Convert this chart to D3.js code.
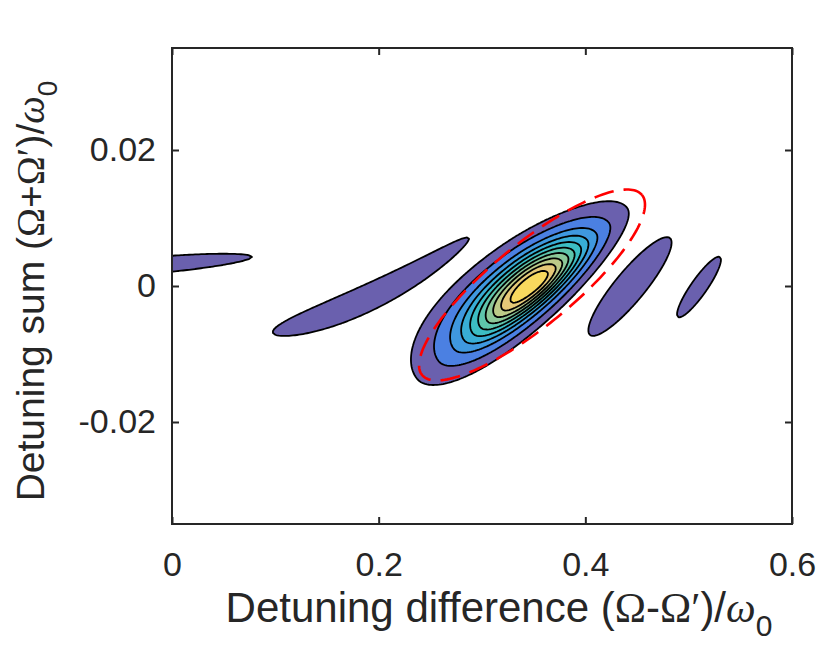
<!DOCTYPE html>
<html>
<head>
<meta charset="utf-8">
<script src="https://cdn.jsdelivr.net/npm/d3@7"></script>
<style>
  body { margin: 0; background: #fff; }
  text { font-family: "Liberation Sans", Arial, Helvetica, sans-serif; fill: #262626; }
  .sym { font-family: "Liberation Serif", "DejaVu Serif", serif; }
</style>
</head>
<body>
<div id="vis"></div>
<script>
// Datos
const xTicks = [0, 0.2, 0.4, 0.6];
const yTicks = [-0.02, 0, 0.02];
const xDomain = [0, 0.6];
const yDomain = [-0.035, 0.035];

// niveles de contorno (fracción del máximo)
const levels = [0.03, 0.1, 0.2, 0.3, 0.4, 0.5, 0.6, 0.7, 0.8, 0.9];

// lóbulos: pico, extremos, ancho relativo [lado superior, lado inferior], curvatura, asimetría, amplitud
const lobePeak = [[0.3474, 0.0], [-0.029, 0.0029], [0.1926, 0.00008], [0.4432, -0.00008], [0.510, -0.00015]];
const lobeTipA = [[0.2310, -0.01250], [-0.1355, 0.00147], [0.0977, -0.00691], [0.4045, -0.00721], [0.4897, -0.00456]];
const lobeTipB = [[0.4340, 0.01270], [0.0774, 0.00426], [0.2874, 0.00706], [0.4819, 0.00706], [0.5303, 0.00426]];
const lobeWidth = [[0.37, 0.27], [0.075, 0.075], [0.12, 0.12], [0.24, 0.24], [0.22, 0.22]];
const lobeBend = [0, 0, 0.09, 0, 0];
const lobeTaper = [0.2, 0, 0.2, 0, 0];
const lobeAmp = [1, 0.06, 0.06, 0.06, 0.06];

// elipse roja: centro y semiejes (unidades de datos)
const redCenter = [0.3484, 0.00015];
const redAxisA = [0.1064, 0.01324];
const redAxisB = [0.02515, -0.00466];

// colores de las bandas
const bandColors = ["#6a60ae", "#4b80e2", "#3f98df", "#38add5", "#3cbdc3",
  "#5ec5ac", "#8cc898", "#bcca88", "#e5c978", "#f8d95e"];

// Constantes
const WIDTH = 817;
const HEIGHT = 649;
const margin = { top: 48, right: 25, bottom: 125, left: 172 };
const width = WIDTH - margin.left - margin.right;
const height = HEIGHT - margin.top - margin.bottom;

const svg = d3.select("#vis")
  .append("svg")
  .attr("width", WIDTH)
  .attr("height", HEIGHT);

const x = d3.scaleLinear().domain(xDomain).range([margin.left, margin.left + width]);
const y = d3.scaleLinear().domain(yDomain).range([margin.top + height, margin.top]);

svg.append("clipPath")
  .attr("id", "clip")
  .append("rect")
  .attr("x", margin.left)
  .attr("y", margin.top)
  .attr("width", width)
  .attr("height", height);

// Campo en pixeles a partir de los lóbulos
const t0 = levels[0];
const lobes = lobePeak.map((p, k) => {
  const c = [x(p[0]), y(p[1])];
  const A = [x(lobeTipA[k][0]), y(lobeTipA[k][1])];
  const B = [x(lobeTipB[k][0]), y(lobeTipB[k][1])];
  const len = Math.hypot(B[0] - A[0], B[1] - A[1]);
  const e = [(B[0] - A[0]) / len, (B[1] - A[1]) / len];
  const n = [-e[1], e[0]];
  const uA = -((A[0] - c[0]) * e[0] + (A[1] - c[1]) * e[1]);
  const uB = (B[0] - c[0]) * e[0] + (B[1] - c[1]) * e[1];
  const Lm = (uA + uB) / 2;
  const s = Math.sqrt(Math.log(lobeAmp[k] / t0));
  return {
    c, e, n, uA, uB, Lm,
    aA: uA / s, aB: uB / s,
    bN: lobeWidth[k][0] * Lm / s, bP: lobeWidth[k][1] * Lm / s,
    bend: lobeBend[k] * Lm, taper: lobeTaper[k], amp: lobeAmp[k]
  };
});

function field(px, py) {
  let m = 0;
  lobes.forEach(l => {
    const dx = px - l.c[0], dy = py - l.c[1];
    const u = dx * l.e[0] + dy * l.e[1];
    let v = dx * l.n[0] + dy * l.n[1];
    const Lu = u < 0 ? l.uA : l.uB;
    v -= l.bend * (1 - (u / Lu) * (u / Lu));
    const a = u < 0 ? l.aA : l.aB;
    const grow = Math.max(0.4, 1 - l.taper * u / l.Lm);
    const b = (v < 0 ? l.bN : l.bP) * grow;
    const f = l.amp * Math.exp(-(u * u / (a * a) + v * v / (b * b)));
    if (f > m) m = f;
  });
  return m;
}

const step = 2;
const nx = Math.ceil(width / step);
const ny = Math.ceil(height / step);
const values = new Float64Array(nx * ny);
for (let j = 0; j < ny; j++) {
  for (let i = 0; i < nx; i++) {
    values[j * nx + i] = field(margin.left + (i + 0.5) * step, margin.top + (j + 0.5) * step);
  }
}

const contours = d3.contours().size([nx, ny]).thresholds(levels)(values);
const geo = d3.geoPath(d3.geoIdentity().scale(step).translate([margin.left, margin.top]));

const plot = svg.append("g").attr("clip-path", "url(#clip)");

plot.selectAll("path.band")
  .data(contours)
  .join("path")
  .attr("class", "band")
  .attr("d", geo)
  .attr("fill", (d, i) => bandColors[i])
  .attr("stroke", "black")
  .attr("stroke-width", 1.8)
  .attr("stroke-linejoin", "round");

// Elipse roja discontinua
const ang = d3.range(0, 2 * Math.PI + 0.001, Math.PI / 90);
const ellipse = d3.line()
  .x(t => x(redCenter[0] + Math.cos(t) * redAxisA[0] + Math.sin(t) * redAxisB[0]))
  .y(t => y(redCenter[1] + Math.cos(t) * redAxisA[1] + Math.sin(t) * redAxisB[1]));

plot.append("path")
  .attr("d", ellipse(ang))
  .attr("fill", "none")
  .attr("stroke", "#ff0000")
  .attr("stroke-width", 2.6)
  .attr("stroke-dasharray", "20 10");

// Ejes
const tick = 7;
const fmt = d => d === 0 ? "0" : String(d);
svg.append("g")
  .attr("transform", `translate(0, ${margin.top + height})`)
  .call(d3.axisBottom(x).tickValues(xTicks).tickSize(-tick).tickSizeOuter(0).tickPadding(28)
    .tickFormat(fmt))
  .call(g => g.select(".domain").remove())
  .call(g => g.selectAll("text").style("font-size", "34px").attr("fill", "#262626"));

svg.append("g")
  .attr("transform", `translate(0, ${margin.top})`)
  .call(d3.axisTop(x).tickValues(xTicks).tickSize(-tick).tickSizeOuter(0).tickFormat(""))
  .call(g => g.select(".domain").remove());

svg.append("g")
  .attr("transform", `translate(${margin.left}, 0)`)
  .call(d3.axisLeft(y).tickValues(yTicks).tickSize(-tick).tickSizeOuter(0).tickPadding(16)
    .tickFormat(fmt))
  .call(g => g.select(".domain").remove())
  .call(g => g.selectAll("text").style("font-size", "34px").attr("fill", "#262626"));

svg.append("g")
  .attr("transform", `translate(${margin.left + width}, 0)`)
  .call(d3.axisRight(y).tickValues(yTicks).tickSize(-tick).tickSizeOuter(0).tickFormat(""))
  .call(g => g.select(".domain").remove());

svg.selectAll(".tick line").attr("stroke", "#262626").attr("stroke-width", 2);

svg.append("rect")
  .attr("x", margin.left)
  .attr("y", margin.top)
  .attr("width", width)
  .attr("height", height)
  .attr("fill", "none")
  .attr("stroke", "#262626")
  .attr("stroke-width", 2);

// Etiquetas
const xLabel = svg.append("text")
  .attr("x", 499)
  .attr("y", 622)
  .attr("text-anchor", "middle")
  .style("font-size", "42px");
xLabel.append("tspan").text("Detuning difference (");
xLabel.append("tspan").attr("class", "sym").text("Ω");
xLabel.append("tspan").text("-");
xLabel.append("tspan").attr("class", "sym").text("Ω′");
xLabel.append("tspan").text(")/");
xLabel.append("tspan").attr("class", "sym").style("font-style", "italic").text("ω");
xLabel.append("tspan").attr("dy", "0.45em").style("font-size", "30px").text("0");

const yLabel = svg.append("text")
  .attr("transform", "translate(44, 291) rotate(-90)")
  .attr("text-anchor", "middle")
  .style("font-size", "39px");
yLabel.append("tspan").text("Detuning sum (");
yLabel.append("tspan").attr("class", "sym").text("Ω");
yLabel.append("tspan").text("+");
yLabel.append("tspan").attr("class", "sym").text("Ω′");
yLabel.append("tspan").text(")/");
yLabel.append("tspan").attr("class", "sym").style("font-style", "italic").text("ω");
yLabel.append("tspan").attr("dy", "0.45em").style("font-size", "28px").text("0");
</script>
</body>
</html>
